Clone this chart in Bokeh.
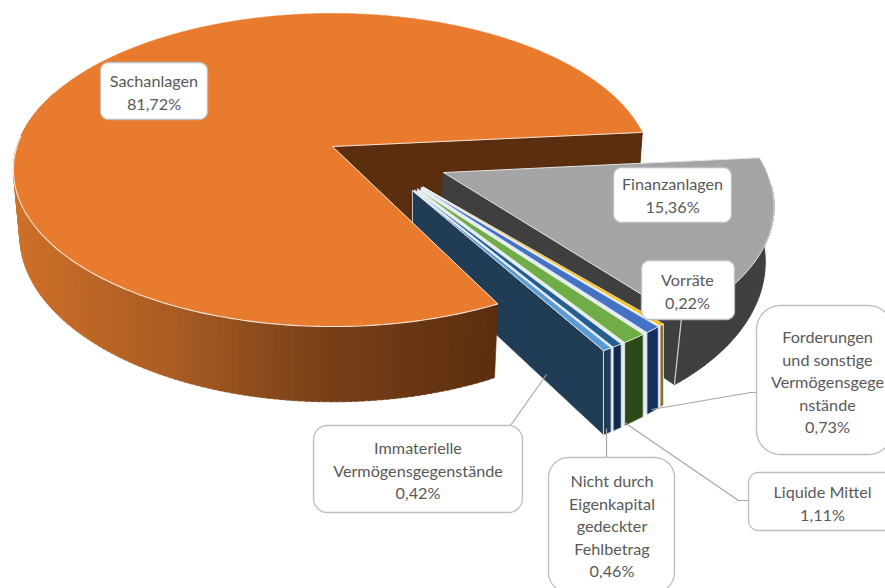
import numpy as np
from bokeh.plotting import figure
from bokeh.models import Range1d, ColumnDataSource
from bokeh.core.properties import value
from bokeh.embed import file_html
from bokeh.resources import INLINE

# ---- data ----
categories = ["Sachanlagen", "Finanzanlagen", "Vorräte",
              "Forderungen und sonstige Vermögensgegenstände", "Liquide Mittel",
              "Nicht durch Eigenkapital gedeckter Fehlbetrag",
              "Immaterielle Vermögensgegenstände"]
shares = [81.72, 15.36, 0.22, 0.73, 1.11, 0.46, 0.42]
share_labels = ["81,72%", "15,36%", "0,22%", "0,73%", "1,11%", "0,46%", "0,42%"]

# ---- style ----
top_colors = ["#E97B2F", "#A5A5A5", "#FFC000", "#4472C4", "#70AD47", "#255E91", "#5B9BD5"]
wall_colors = ["#5B2E10", "#3F3F3F", "#8A6D1C", "#142E60", "#2B4A17", "#0F2A4A", "#203D55"]
text_color = "#595959"
box_line = "#BDBDBD"
leader = "#A6A6A6"
FONT = "Lato"
FS = "16.2px"
LH = 22.6

# projection of the pie plane on the page
CX, CY, AX, BY, K = 332.0, 146.0, 315.5, 153.0, 0.15
START = 150.5   # clockwise from 12 o'clock
MAIN_TRIM = 2.5 # the orange wedge's front cut sits slightly further round

def project(u, v):
    w = 1 - K * v
    return CX + AX * u / w, CY + BY * v / w

def down(u, v, D, kd, s=0.98):
    x, y = project(u, v)
    return CX + (x - CX) * s, y + D / (1 - kd * v)

def rim(a, R, ou, ov):
    t = np.radians(a)
    return ou + R * np.sin(t), ov - R * np.cos(t)

def arc(a0, a1, R, ou, ov, n=None):
    n = n or max(3, int(abs(a1 - a0) * 2))
    return np.linspace(a0, a1, n)

fig = figure(width=885, height=588, output_backend="svg", toolbar_location=None,
             x_range=Range1d(0, 885), y_range=Range1d(588, 0),
             min_border=0, outline_line_color=None, background_fill_color="white")
fig.axis.visible = False
fig.grid.visible = False

total = sum(shares)
spans = [s / total * 360 for s in shares]
a0s = [START]
for s in spans[:-1]:
    a0s.append(a0s[-1] + s)
a1s = [a + s for a, s in zip(a0s, spans)]

def top_poly(a0, a1, R, ou, ov):
    aa = arc(a0, a1, R, ou, ov)
    u, v = rim(aa, R, ou, ov)
    x, y = project(np.r_[ou, u], np.r_[ov, v])
    return x, y

def rim_wall(a0, a1, R, ou, ov, D, kd, s=0.98):
    aa = arc(a0, a1, R, ou, ov)
    u, v = rim(aa, R, ou, ov)
    xt, yt = project(u, v)
    xb, yb = down(u, v, D, kd, s)
    return np.r_[xt, xb[::-1]], np.r_[yt, yb[::-1]]

def cut_wall(a, R, ou, ov, D, kd, s=0.98):
    u, v = rim(a, R, ou, ov)
    x0, y0 = project(ou, ov)
    x1, y1 = project(u, v)
    x2, y2 = down(u, v, D, kd, s)
    x3, y3 = down(ou, ov, D, kd, s)
    return [x0, x1, x2, x3], [y0, y1, y2, y3]

# ---- main slice: inner wall seen through the gap ----
mx, my = cut_wall(a1s[0] % 360, 1.0, 0, 0, 85, 0.15)
fig.patch(mx, my, fill_color=wall_colors[0], line_color=wall_colors[0])

# ---- Finanzanlagen ----
F_OU, F_OV = 0.343, 0.166
F_D, F_KD = 50, 0.25
F_EXTRA = 3.0   # the drawn wedge reaches slightly further round
a0, a1 = a0s[1] % 360, a1s[1] % 360 + F_EXTRA
x, y = cut_wall(a1, 1.0, F_OU, F_OV, F_D, F_KD)
fig.patch(x, y, fill_color=wall_colors[1], line_color=wall_colors[1])
x, y = rim_wall(a0 + 10, a1, 1.0, F_OU, F_OV, F_D, F_KD)
fig.patch(x, y, fill_color=wall_colors[1], line_color=wall_colors[1])
x, y = top_poly(a0, a1, 1.0, F_OU, F_OV)
fig.patch(x, y, fill_color=top_colors[1], line_color="#E4E4E4", line_width=1)
# light corner line between the two dark faces
u, v = rim(a1, 1.0, F_OU, F_OV)
xa, ya = project(u, v)
xb, yb = down(u, v, F_D, F_KD)
fig.line([xa, xb], [ya, yb], line_color="#C8C8C8", line_width=1.3)

# ---- the five thin slices, far to near ----
S_E, S_SU, S_SV, S_R, S_D, S_KD, S_S = 0.24, 0.122, 0.069, 0.96, 62, 0.24, 1.0
for i in range(2, 7):
    a0, a1 = a0s[i] % 360, a1s[i] % 360
    m = np.radians((a0 + a1) / 2)
    ou, ov = S_SU + S_E * np.sin(m), S_SV - S_E * np.cos(m)
    x, y = cut_wall(a1, S_R, ou, ov, S_D, S_KD, S_S)
    fig.patch(x, y, fill_color=wall_colors[6] if i == 6 else "#E6EEF4",
              line_color="#E8EEF2", line_width=0.8)
    x, y = rim_wall(a0, a1, S_R, ou, ov, S_D, S_KD, S_S)
    fig.patch(x, y, fill_color=wall_colors[i], line_color="#DDE4EA", line_width=0.9)
    x, y = top_poly(a0, a1, S_R, ou, ov)
    fig.patch(x, y, fill_color=top_colors[i], line_color="#F2F2F2", line_width=0.7)

# ---- main slice: shaded rim and top ----
main_a0 = a0s[0] + MAIN_TRIM
stops_x = [18, 170, 300, 400, 496]
stops_c = np.array([[205, 112, 42], [170, 92, 35], [126, 68, 26], [108, 56, 20], [92, 46, 16]])
aa = np.arange(main_a0, 292, 1.0)
xs, ys, cs = [], [], []
for p, q in zip(aa[:-1], aa[1:]):
    u, v = rim(np.array([p, q + 0.4]), 1.0, 0, 0)
    xt, yt = project(u, v)
    xb, yb = down(u, v, 64, 0.15)
    xs.append(list(np.r_[xt, xb[::-1]]))
    ys.append(list(np.r_[yt, yb[::-1]]))
    xm = float(xt.mean())
    c = [int(np.interp(xm, stops_x, stops_c[:, j])) for j in range(3)]
    cs.append("#%02x%02x%02x" % tuple(c))
fig.patches("xs", "ys", source=ColumnDataSource(dict(xs=xs, ys=ys, c=cs)),
            fill_color="c", line_color="c", line_width=0.6)

x, y = top_poly(main_a0, a1s[0], 1.0, 0, 0)
fig.patch(x, y, fill_color=top_colors[0], line_color=top_colors[0], line_width=0.5)
# bright edge on the front of the rim and along the cuts
u, v = rim(np.arange(main_a0, 275, 1.0), 1.0, 0, 0)
xr, yr = project(u, v)
fig.line(xr, yr, line_color="#F3E6D8", line_width=1.1)
u, v = rim(main_a0, 1.0, 0, 0)
xe, ye = project(np.array([0, u]), np.array([0, v]))
fig.line(xe, ye, line_color="#F3E6D8", line_width=1)
u, v = rim(a1s[0] % 360, 1.0, 0, 0)
xe, ye = project(np.array([0, u]), np.array([0, v]))
fig.line(xe, ye, line_color="#F3E6D8", line_width=1)

# ---- leaders ----
leaders = [
    ([546, 510], [374, 425]),
    ([606, 606], [428, 457]),
    ([624, 738, 750], [422, 500, 500]),
    ([651, 750, 758], [409, 392, 392]),
]
for lx, ly in leaders:
    fig.line(lx, ly, line_color=leader, line_width=1.2)

# ---- label boxes ----
def rrect(x0, y0, x1, y1, r):
    px, py = [], []
    for cx, cy, s in [(x1 - r, y0 + r, -90), (x1 - r, y1 - r, 0), (x0 + r, y1 - r, 90), (x0 + r, y0 + r, 180)]:
        t = np.radians(np.linspace(s, s + 90, 10))
        px += list(cx + r * np.cos(t))
        py += list(cy + r * np.sin(t))
    return px, py

label_lines = [
    ["Sachanlagen"],
    ["Finanzanlagen"],
    ["Vorräte"],
    ["Forderungen", "und sonstige", "Vermögensgege", "nstände"],
    ["Liquide Mittel"],
    ["Nicht durch", "Eigenkapital", "gedeckter", "Fehlbetrag"],
    ["Immaterielle", "Vermögensgegenstände"],
]
boxes = [  # x0, y0, x1, y1, radius, text centre x, first line y
    (100, 62, 207, 119, 8, 153.5, 80),
    (613, 167, 731, 222, 8, 672, 183),
    (641, 260, 734, 319, 8, 687, 279),
    (756, 305, 892, 454, 24, 827, 336),
    (748, 472, 900, 530, 10, 822, 491),
    (548, 457, 674, 592, 20, 611.5, 480),
    (313, 425, 522, 512, 14, 417.5, 447),
]
for lines, pct, b in zip(label_lines, share_labels, boxes):
    x0, y0, x1, y1, r, tx, ty = b
    px, py = rrect(x0, y0, x1, y1, r)
    fig.patch(px, py, fill_color="white", line_color=box_line, line_width=1.3)
    rows = lines + [pct]
    fig.text([tx] * len(rows), [ty + i * LH for i in range(len(rows))], text=rows,
             text_font=value(FONT), text_font_size=FS, text_color=text_color,
             text_align="center", text_baseline="middle")

open("out.html", "w").write(file_html(fig, INLINE))
